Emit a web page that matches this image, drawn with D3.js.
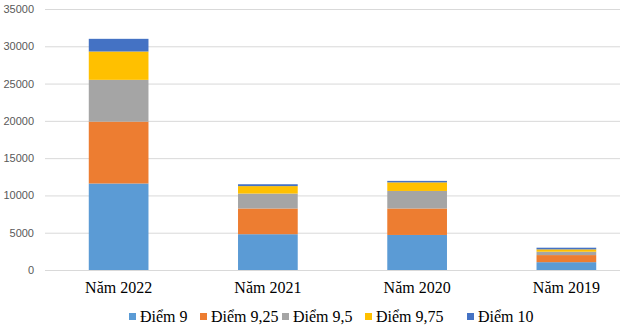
<!DOCTYPE html>
<html><head><meta charset="utf-8">
<script src="https://cdn.jsdelivr.net/npm/d3@7"></script>
<style>body{margin:0;background:#fff}svg{display:block}</style>
</head><body>
<svg id="c" width="620" height="335"></svg>
<script>
const categories = ["Năm 2022", "Năm 2021", "Năm 2020", "Năm 2019"];
const seriesNames = ["Điểm 9", "Điểm 9,25", "Điểm 9,5", "Điểm 9,75", "Điểm 10"];
const diem9    = [11600, 4800, 4700, 1050];
const diem925  = [8300, 3450, 3550, 950];
const diem95   = [5600, 2000, 2350, 450];
const diem975  = [3800, 1000, 1150, 320];
const diem10   = [1700, 250, 200, 220];
const yTicks = [0, 5000, 10000, 15000, 20000, 25000, 30000, 35000];
const colors = ["#5B9BD5", "#ED7D31", "#A5A5A5", "#FFC000", "#4472C4"];

const seriesValues = [diem9, diem925, diem95, diem975, diem10];
const rows = categories.map((c, i) => {
  const r = {cat: c};
  seriesNames.forEach((s, k) => r[s] = seriesValues[k][i]);
  return r;
});
const stacked = d3.stack().keys(seriesNames)(rows);

const svg = d3.select("#c");
const x = d3.scaleBand().domain(categories).range([44, 641]).paddingInner(0.6).paddingOuter(0.3);
const y = d3.scaleLinear().domain([0, 35000]).range([270, 9]);

// gridlines
svg.append("g").selectAll("line").data(yTicks).join("line")
  .attr("x1", 45).attr("x2", 620)
  .attr("y1", d => y(d) + 0.5).attr("y2", d => y(d) + 0.5)
  .attr("stroke", "#D9D9D9").attr("stroke-width", 1);

// y axis labels
const yAxis = d3.axisLeft(y).tickValues(yTicks).tickSize(0).tickPadding(0).tickFormat(d3.format("d"));
const ya = svg.append("g").attr("transform", "translate(34,0)").call(yAxis);
ya.select(".domain").remove();
ya.selectAll("text").attr("font-family", "Liberation Sans, Arial, sans-serif")
  .attr("font-size", 11).attr("fill", "#595959");

// bars
svg.append("g").selectAll("g").data(stacked).join("g")
  .attr("fill", (d, i) => colors[i])
  .selectAll("rect").data(d => d).join("rect")
  .attr("x", d => x(d.data.cat))
  .attr("width", x.bandwidth())
  .attr("y", d => y(d[1]))
  .attr("height", d => y(d[0]) - y(d[1]));

// x axis labels
const xAxis = d3.axisBottom(x).tickSize(0).tickPadding(0);
const xa = svg.append("g").attr("transform", "translate(0,282)").call(xAxis);
xa.select(".domain").remove();
xa.selectAll("text").attr("font-family", "Liberation Serif, Times New Roman, serif")
  .attr("font-size", 16).attr("fill", "#000");

// legend
const legX = [129, 200, 282, 365, 467];
const leg = svg.append("g").selectAll("g").data(seriesNames).join("g")
  .attr("transform", (d, i) => `translate(${legX[i]},316)`);
leg.append("rect").attr("x", 0).attr("y", -3).attr("width", 7).attr("height", 7)
  .attr("fill", (d, i) => colors[i]);
leg.append("text").attr("x", 11).attr("y", 6).text(d => d)
  .attr("font-family", "Liberation Serif, Times New Roman, serif")
  .attr("font-size", 16).attr("fill", "#000");
</script>
</body></html>
